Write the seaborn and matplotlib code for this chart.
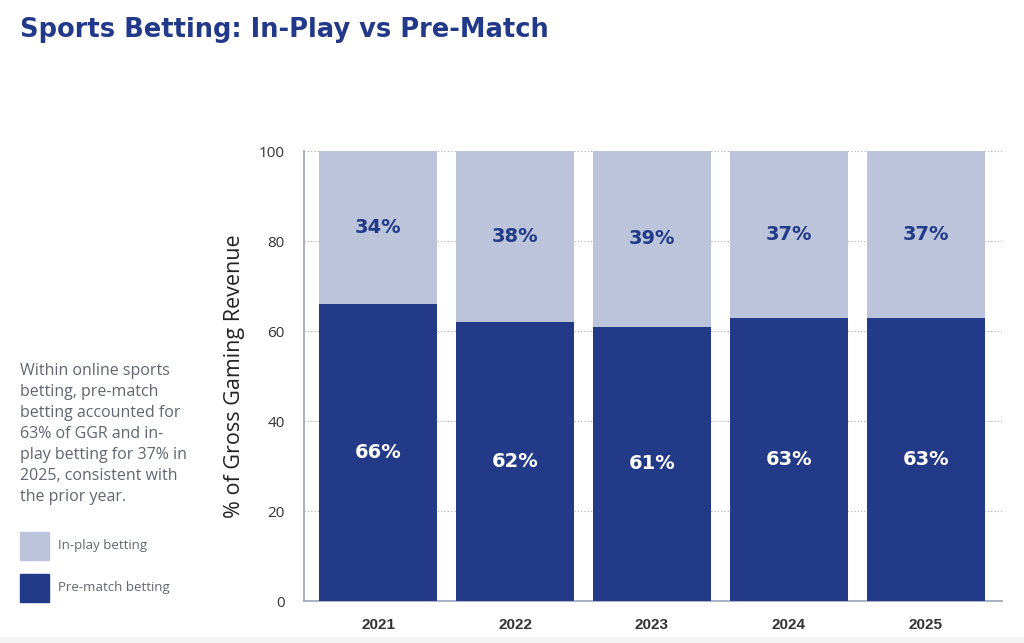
import numpy as np
import pandas as pd
import matplotlib
matplotlib.use("Agg")
import matplotlib.pyplot as plt
from matplotlib.patches import Rectangle
import seaborn as sns

# -------------------------
# Data
# -------------------------
years = ["2021", "2022", "2023", "2024", "2025"]
pre_match = [66, 62, 61, 63, 63]
in_play = [34, 38, 39, 37, 37]

DARK = "#223a87"
LIGHT = "#bcc4dc"
TITLE = "#22398a"
GREY = "#5f6670"

sns.set_theme(style="white")
plt.rcParams["font.family"] = ["Open Sans", "DejaVu Sans"]

df = pd.DataFrame({"year": years, "pre": pre_match, "inplay": in_play})
df["total"] = df["pre"] + df["inplay"]

fig = plt.figure(figsize=(10.24, 6.43), dpi=100)
ax = fig.add_axes([0.297, 0.065, 0.682, 0.70])

# stacked bars: total in light, pre-match in dark on top
sns.barplot(data=df, x="year", y="total", color=LIGHT, width=0.86,
            saturation=1, linewidth=0, ax=ax, zorder=2)
sns.barplot(data=df, x="year", y="pre", color=DARK, width=0.86,
            saturation=1, linewidth=0, ax=ax, zorder=3)

lab_font = ["DejaVu Sans"]
for i, (p, q) in enumerate(zip(pre_match, in_play)):
    ax.text(i, p / 2, f"{p}%", ha="center", va="center", color="white",
            fontsize=14, fontweight="bold", family=lab_font, zorder=4)
    ax.text(i, p + q / 2, f"{q}%", ha="center", va="center", color=DARK,
            fontsize=14, fontweight="bold", family=lab_font, zorder=4)

ax.set_ylim(0, 100)
ax.set_xlim(-0.54, 4.56)
ax.set_yticks([0, 20, 40, 60, 80, 100])
ax.yaxis.grid(True, linestyle=(0, (1, 2)), color="#aaaaaa", linewidth=0.8, zorder=0)
ax.set_axisbelow(True)
ax.tick_params(axis="y", labelsize=11, labelcolor="#333333", length=0, pad=14)
ax.tick_params(axis="x", labelsize=11, labelcolor="#333333", length=0, pad=12)
for lbl in ax.get_xticklabels():
    lbl.set_fontweight("bold")
    lbl.set_family(["Liberation Sans Narrow", "Liberation Sans", "DejaVu Sans"])
ax.set_xlabel("")
ax.set_ylabel("% of Gross Gaming Revenue", fontsize=15.5, color="#222222", labelpad=10)

for s in ["top", "right"]:
    ax.spines[s].set_visible(False)
for s in ["left", "bottom"]:
    ax.spines[s].set_color("#9aa3b8")
    ax.spines[s].set_linewidth(1.2)

# title
fig.text(0.0195, 0.953, "Sports Betting: In-Play vs Pre-Match", fontsize=18.5,
         fontweight="bold", color=TITLE, ha="left", va="center",
         family=["DejaVu Sans"])

# side note
note = ("Within online sports\nbetting, pre-match\nbetting accounted for\n"
        "63% of GGR and in-\nplay betting for 37% in\n2025, consistent with\n"
        "the prior year.")
fig.text(0.0195, 0.436, note, fontsize=11.5, color=GREY, ha="left", va="top",
         linespacing=1.42)

# legend
for y, col, lab in [(0.129, LIGHT, "In-play betting"), (0.064, DARK, "Pre-match betting")]:
    fig.patches.append(Rectangle((0.0195, y), 0.028, 0.044, transform=fig.transFigure,
                                 color=col, figure=fig))
    fig.text(0.0565, y + 0.022, lab, fontsize=9.5, color=GREY, ha="left", va="center")

# faint band along the bottom edge
fig.patches.append(Rectangle((0, 0), 1, 0.01, transform=fig.transFigure,
                             color="#f4f4f4", figure=fig))

fig.savefig("out.png", dpi=100, facecolor="white")
